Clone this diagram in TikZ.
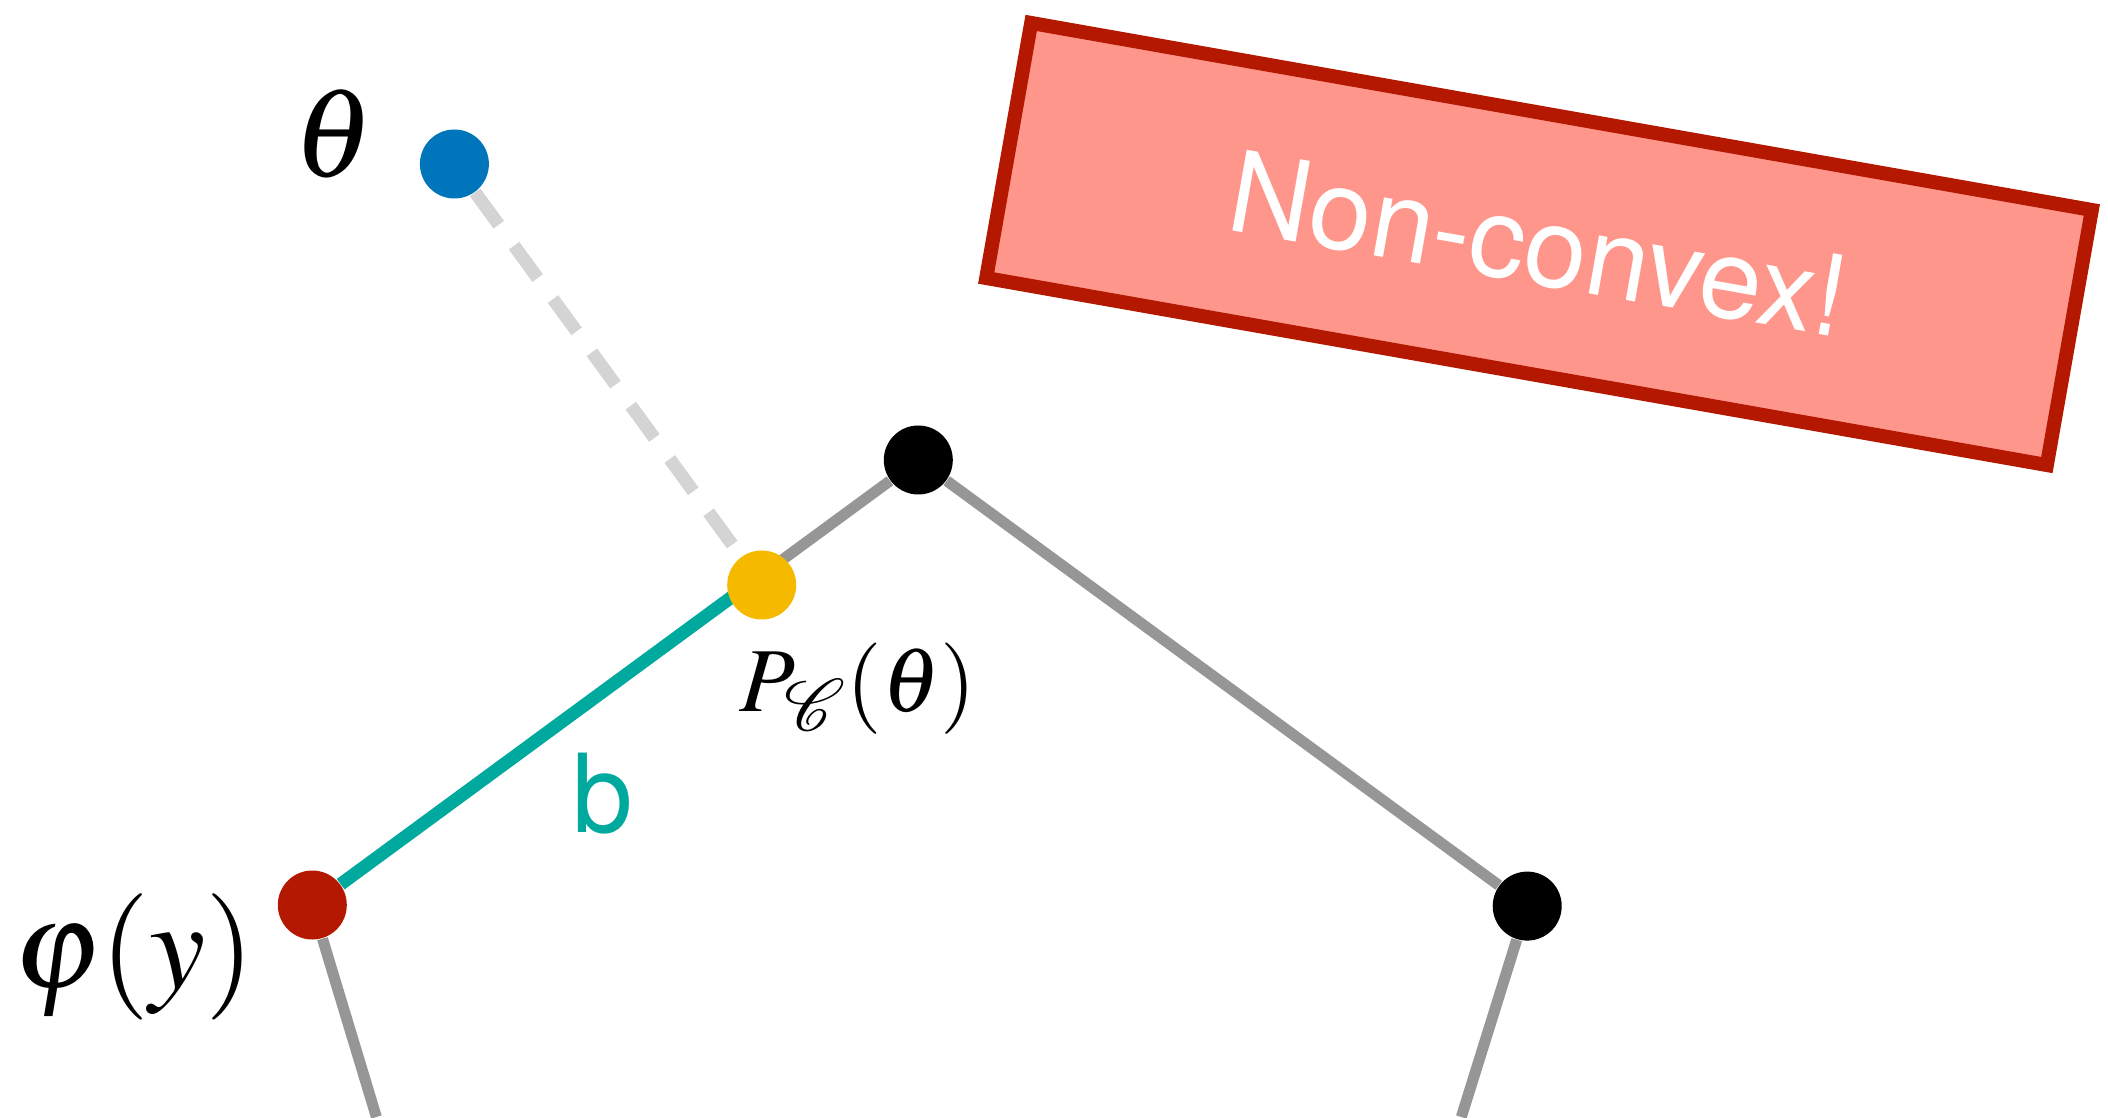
\documentclass[tikz,border=0pt]{standalone}
\usepackage{mathptmx}
\usepackage{mathrsfs}
\usepackage{fontspec}
\usetikzlibrary{calc,backgrounds}
\newfontfamily\labelsans{TeX Gyre Heros}
\definecolor{cblue}{HTML}{0075BB}
\definecolor{cyellow}{HTML}{F5BA00}
\definecolor{cred}{HTML}{B41800}
\definecolor{cteal}{HTML}{00A99D}
\definecolor{cgray}{HTML}{969696}
\definecolor{clight}{HTML}{D4D4D4}
\definecolor{csalmon}{HTML}{FF968C}
\tikzset{
  dot/.style={circle, inner sep=0pt, minimum size=0.69cm, fill=#1},
  edgeline/.style={draw=cgray, line width=0.11cm},
  tealline/.style={draw=cteal, line width=0.13cm},
  projline/.style={draw=clight, line width=0.13cm, dash pattern=on 0.40cm off 0.26cm},
  mathlabel/.style={inner sep=0pt, font=\fontsize{36}{42}\selectfont},
  warnbox/.style={draw=cred, fill=csalmon, line width=0.14cm, rotate=-10,
    minimum width=10.77cm, minimum height=2.59cm, inner sep=0pt,
    text=white, font=\labelsans\fontsize{32}{38}\selectfont}
}
\begin{document}
\begin{tikzpicture}
\useasboundingbox (0,0) rectangle (21.08,11.17);
% dots
\node[dot=cblue] (theta) at (4.544,9.530) {};
\node[dot=cyellow] (proj) at (7.617,5.320) {};
\node[dot=black] (top) at (9.183,6.570) {};
\node[dot=black] (right) at (15.272,2.109) {};
\node[dot=cred] (phi) at (3.123,2.120) {};
\coordinate (leftend) at (3.764,0);
\coordinate (rightend) at (14.613,0);
\coordinate (foot) at ($(phi)!0.7417!(top)$);
% connectors
\begin{pgfonlayer}{background}
\draw[edgeline] (phi) -- (leftend);
\draw[edgeline] (right) -- (rightend);
\draw[edgeline] (foot) -- (top);
\draw[edgeline] (top) -- (right);
\draw[tealline] (phi) -- (foot);
\draw[projline] (theta) -- (proj);
\end{pgfonlayer}
% labels
\node[mathlabel] (thetalabel) at (3.334,9.826) {$\theta$};
\node[mathlabel] (philabel) at (1.344,1.598) {$\varphi(y)$};
\node[inner sep=0pt, font=\fontsize{26}{31}\selectfont] (projlabel) at (8.577,4.287) {$P_{\mathscr{C}}(\theta)$};
\node[inner sep=0pt, text=cteal, font=\labelsans\fontsize{31}{36}\selectfont] (blabel) at (6.023,3.238) {b};
% warning box
\node[warnbox] (warn) at (15.39,8.73) {Non-convex!};
\end{tikzpicture}
\end{document}
